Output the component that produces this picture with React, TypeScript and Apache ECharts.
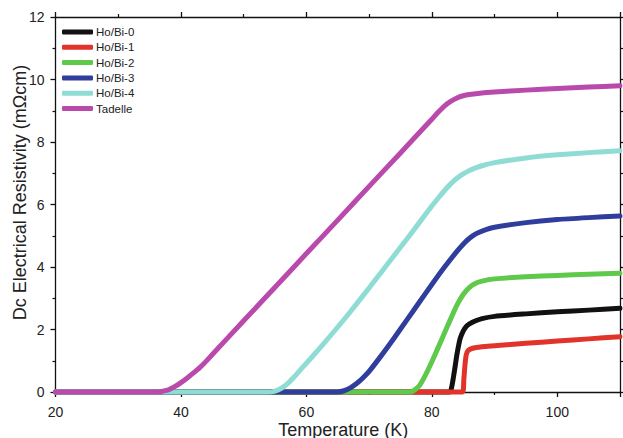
import React, { useEffect, useRef } from "react";
import * as echarts from "echarts";

const seriesNames = ["Ho/Bi-0", "Ho/Bi-1", "Ho/Bi-2", "Ho/Bi-3", "Ho/Bi-4", "Tadelle"];
const seriesColors = ["#111111", "#e2332a", "#5fc94b", "#2f3d9c", "#8fdcd5", "#b94aac"];

const xTicks = [20, 40, 60, 80, 100];
const yTicks = [0, 2, 4, 6, 8, 10, 12];

const hoBi0: [number, number][] = [
  [20, 0], [40, 0], [60, 0], [80, 0], [82.8, 0], [83, 0.02], [83.3, 0.3], [83.7, 0.8], [84, 1.2],
  [84.5, 1.7], [85, 1.95], [85.5, 2.1], [86, 2.18], [87, 2.28], [88, 2.35], [90, 2.42],
  [95, 2.5], [100, 2.57], [105, 2.62], [110, 2.68],
];
const hoBi1: [number, number][] = [
  [20, 0], [40, 0], [60, 0], [80, 0], [84.9, 0], [85.1, 0.4], [85.3, 0.9], [85.5, 1.2],
  [85.8, 1.33], [86.5, 1.4], [88, 1.45], [90, 1.48], [95, 1.56], [100, 1.63], [105, 1.7], [110, 1.77],
];
const hoBi2: [number, number][] = [
  [20, 0], [40, 0], [60, 0], [76.5, 0], [77, 0.03], [78, 0.2], [79, 0.55], [80, 0.97], [81, 1.42],
  [82, 1.88], [83, 2.34], [84, 2.78], [85, 3.12], [86, 3.35], [87, 3.48], [88, 3.55], [90, 3.62],
  [95, 3.69], [100, 3.73], [105, 3.77], [110, 3.8],
];
const hoBi3: [number, number][] = [
  [20, 0], [40, 0], [60, 0], [65, 0], [66, 0.04], [67, 0.13], [68, 0.27], [69, 0.45], [70, 0.66],
  [72, 1.18], [74, 1.73], [76, 2.3], [78, 2.87], [80, 3.44], [82, 3.99], [84, 4.5], [85, 4.73],
  [86, 4.92], [87, 5.06], [88, 5.15], [90, 5.27], [95, 5.42], [100, 5.52], [105, 5.58], [110, 5.63],
];
const hoBi4: [number, number][] = [
  [20, 0], [40, 0], [54, 0], [55, 0.03], [56, 0.12], [57, 0.27], [58, 0.47], [59, 0.7], [60, 0.92],
  [62, 1.37], [64, 1.84], [66, 2.32], [68, 2.82], [70, 3.33], [72, 3.85], [74, 4.37], [76, 4.89],
  [78, 5.42], [80, 5.95], [81, 6.2], [82, 6.44], [83, 6.66], [84, 6.84], [85, 6.98], [86, 7.09],
  [87, 7.17], [88, 7.24], [90, 7.34], [95, 7.49], [100, 7.59], [105, 7.66], [110, 7.72],
];
const tadelle: [number, number][] = [
  [20, 0], [30, 0], [36.5, 0], [37, 0.02], [38, 0.07], [39, 0.17], [40, 0.3], [41, 0.45],
  [42, 0.61], [43, 0.78], [44, 0.98], [45, 1.2], [50, 2.28], [55, 3.35], [60, 4.43], [65, 5.5],
  [70, 6.58], [75, 7.65], [80, 8.73], [81, 8.95], [82, 9.15], [83, 9.3], [84, 9.41], [85, 9.48],
  [86, 9.52], [88, 9.57], [90, 9.6], [95, 9.66], [100, 9.71], [105, 9.76], [110, 9.8],
];

const seriesData = [hoBi0, hoBi1, hoBi2, hoBi3, hoBi4, tadelle];

const FONT = "Liberation Sans, Arial, sans-serif";

export default function App() {
  const ref = useRef<HTMLDivElement>(null);
  useEffect(() => {
    if (!ref.current) return;
    const chart = echarts.init(ref.current, null, { renderer: "svg" });
    const axisLine = { show: true, onZero: false, lineStyle: { color: "#111", width: 1.3 } };
    const axisTick = { show: true, inside: false, length: 5, lineStyle: { color: "#111", width: 1.3 } };
    const minorTick = { show: true, splitNumber: 2, length: 3, lineStyle: { color: "#111", width: 1.2 } };
    const xMin = xTicks[0];
    const xInt = xTicks[1] - xTicks[0];
    const yMin = yTicks[0];
    const yMax = yTicks[yTicks.length - 1];
    const yInt = yTicks[1] - yTicks[0];
    chart.setOption({
      animation: false,
      backgroundColor: "#ffffff",
      grid: { left: 55.5, right: 3, top: 17, bottom: 46, containLabel: false, outerBoundsMode: "none" },
      legend: {
        data: seriesNames,
        orient: "vertical",
        left: 62,
        top: 26,
        padding: 0,
        icon: "roundRect",
        itemWidth: 31,
        itemHeight: 5,
        itemGap: 3.3,
        textStyle: { fontFamily: FONT, fontSize: 11.5, lineHeight: 12, color: "#222", padding: [0, 0, 0, -2] },
      },
      xAxis: [
        {
          type: "value",
          min: xMin,
          max: 110,
          interval: xInt,
          position: "bottom",
          name: "Temperature (K)",
          nameLocation: "middle",
          nameGap: 28.5,
          nameMoveOverlap: false,
          nameTextStyle: { fontFamily: FONT, fontSize: 18, lineHeight: 18, color: "#222", padding: [0, 0, 0, 11] },
          axisLine,
          axisTick,
          minorTick,
          splitLine: { show: false },
          axisLabel: {
            fontFamily: FONT,
            fontSize: 14,
            lineHeight: 14,
            color: "#222",
            margin: 13,
            showMaxLabel: false,
            formatter: (v: number) => (xTicks.includes(v) ? String(v) : ""),
          },
        },
        {
          type: "value",
          min: xMin,
          max: 110,
          interval: xInt,
          position: "top",
          axisLine,
          axisTick,
          minorTick,
          splitLine: { show: false },
          axisLabel: { show: false },
        },
      ],
      yAxis: [
        {
          type: "value",
          min: yMin,
          max: yMax,
          interval: yInt,
          position: "left",
          name: "Dc Electrical Resistivity (m\u03A9cm)",
          nameLocation: "middle",
          nameGap: 27,
          nameMoveOverlap: false,
          nameTextStyle: { fontFamily: FONT, fontSize: 18, color: "#222", padding: [0, 0, 0, 24] },
          axisLine,
          axisTick,
          minorTick,
          splitLine: { show: false },
          axisLabel: { fontFamily: FONT, fontSize: 14, color: "#222", margin: 11 },
        },
        {
          type: "value",
          min: yMin,
          max: yMax,
          interval: yInt,
          position: "right",
          axisLine,
          axisTick,
          minorTick,
          splitLine: { show: false },
          axisLabel: { show: false },
        },
      ],
      series: seriesNames.map((name, i) => ({
        name,
        type: "line",
        xAxisIndex: 0,
        yAxisIndex: 0,
        data: seriesData[i],
        showSymbol: false,
        symbol: "none",
        smooth: 0.2,
        clip: false,
        color: seriesColors[i],
        lineStyle: { color: seriesColors[i], width: 5, cap: "round", join: "round" },
        z: 2 + i,
      })),
    });
    return () => chart.dispose();
  }, []);
  return (
    <div
      ref={ref}
      style={{ position: "fixed", left: 0, top: 0, width: 623, height: 438, background: "#fff" }}
    />
  );
}
